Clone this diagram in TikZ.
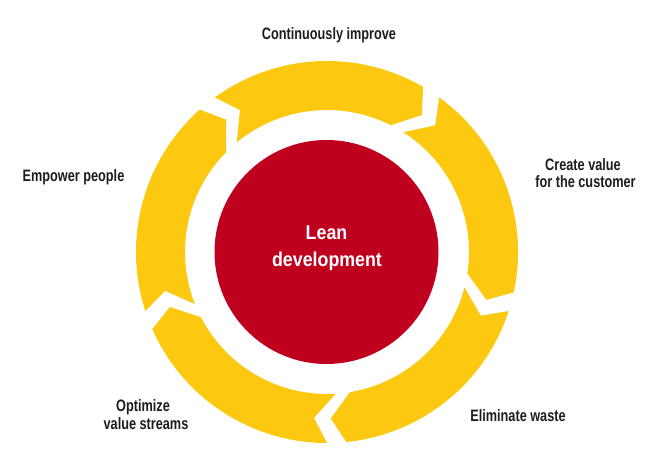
\documentclass[tikz,border=0pt]{standalone}
\usepackage{fontspec}
\setmainfont{Liberation Sans}
\newfontfamily\labelfont{Liberation Sans}[FakeStretch=0.77]
\newfontfamily\centerfont{Liberation Sans}[FakeStretch=0.89]
\definecolor{ringyellow}{RGB}{253,200,16}
\definecolor{leanred}{RGB}{192,0,31}
\definecolor{labeltext}{RGB}{30,28,32}
\tikzset{
  ringfill/.style={fill=ringyellow},
  outerlabel/.style={anchor=base, inner sep=0pt, text=labeltext, font=\labelfont\bfseries\fontsize{16.5}{18}\selectfont},
  innerlabel/.style={anchor=base, inner sep=0pt, text=white, font=\centerfont\bfseries\fontsize{20}{24}\selectfont}
}
\begin{document}
\begin{tikzpicture}[x=1pt,y=1pt]
\useasboundingbox (0,0) rectangle (663,471);
\fill[white] (0,0) rectangle (663,471);
\begin{scope}[shift={(327,219)}]
\foreach \b in {55.3,127.3,199.3,271.3,343.3} {
  \pgfmathsetmacro\a{\b+72-5.8}
  \pgfmathsetmacro\ao{\a+4.5}
  \pgfmathsetmacro\ai{\a+8}
  \pgfmathsetmacro\bo{\b+4.5}
  \pgfmathsetmacro\bi{\b+8}
  \fill[ringfill] (\ao:191) arc[start angle=\ao, end angle=\bo, radius=191]
     -- (\b:166.5) -- (\bi:142) arc[start angle=\bi, end angle=\ai, radius=142]
     -- (\a:166.5) -- cycle;
}
\end{scope}
\node[circle, fill=leanred, minimum size=224pt, inner sep=0pt] (core) at (326.5,219) {};
\node[innerlabel] (lean1) at (326.5,231) {Lean};
\node[innerlabel] (lean2) at (327,204) {development};
\node[outerlabel] (improve) at (329,431) {Continuously improve};
\node[outerlabel] (create1) at (583,300) {Create value};
\node[outerlabel] (create2) at (585.5,283) {for the customer};
\node[outerlabel] (empower) at (73.5,289) {Empower people};
\node[outerlabel] (waste) at (518,50) {Eliminate waste};
\node[outerlabel] (optimize1) at (143,60) {Optimize};
\node[outerlabel] (optimize2) at (146,42) {value streams};
\end{tikzpicture}
\end{document}
